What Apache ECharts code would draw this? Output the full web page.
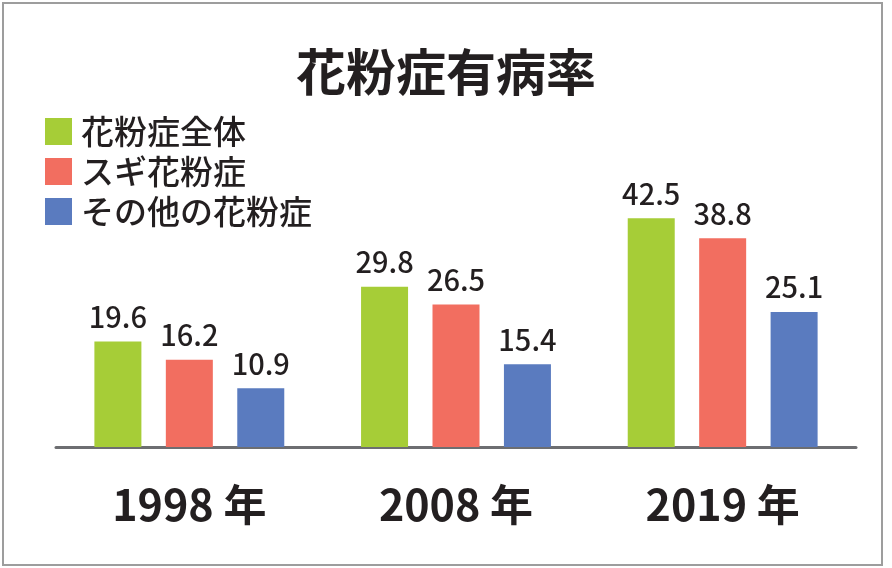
<!DOCTYPE html>
<html lang="ja">
<head>
<meta charset="UTF-8">
<title>花粉症有病率</title>
<style>
  html, body { margin: 0; padding: 0; background: #fff; }
  #chart { width: 892px; height: 568px; }
</style>
</head>
<body>
<div id="chart"></div>
<script src="https://cdn.jsdelivr.net/npm/echarts@6/dist/echarts.min.js"></script>
<script>
// データ
var years = ['1998 年', '2008 年', '2019 年'];
var seriesNames = ['花粉症全体', 'スギ花粉症', 'その他の花粉症'];
var allPollen = [19.6, 29.8, 42.5];
var cedar = [16.2, 26.5, 38.8];
var otherPollen = [10.9, 15.4, 25.1];
var colors = ['#a6cd37', '#f26e60', '#5a7bbf'];

var font = '"Noto Sans CJK JP", "Noto Sans", sans-serif';

var myChart = echarts.init(document.getElementById('chart'));

function makeSeries(name, data, color) {
    return {
        name: name,
        type: 'bar',
        data: data,
        barWidth: 47,
        barGap: '52%',
        itemStyle: { color: color },
        label: {
            show: true,
            position: 'top',
            distance: 10,
            color: '#231f20',
            fontFamily: font,
            fontSize: 29,
            fontWeight: 500,
            formatter: function (p) { return p.value.toFixed(1); }
        }
    };
}

var option = {
    animation: false,
    color: colors,
    title: {
        text: '花粉症有病率',
        left: 'center',
        top: 42,
        textStyle: {
            fontFamily: font,
            fontSize: 50,
            fontWeight: 'bold',
            color: '#231f20'
        }
    },
    legend: {
        orient: 'vertical',
        left: 40,
        top: 110,
        itemWidth: 27,
        itemHeight: 27,
        itemGap: 7,
        icon: 'rect',
        data: seriesNames,
        textStyle: {
            fontFamily: font,
            fontSize: 33,
            fontWeight: 500,
            color: '#231f20',
            padding: [0, 0, 0, 4]
        }
    },
    grid: {
        left: 56,
        right: 36,
        top: 178,
        bottom: 121
    },
    xAxis: {
        type: 'category',
        data: years,
        axisTick: { show: false },
        axisLine: { lineStyle: { color: '#6d6e71', width: 3 } },
        axisLabel: {
            margin: 36,
            fontFamily: font,
            fontSize: 43,
            fontWeight: 'bold',
            color: '#231f20'
        }
    },
    yAxis: {
        type: 'value',
        min: 0,
        max: 50,
        show: false,
        splitLine: { show: false }
    },
    graphic: [{
        type: 'rect',
        shape: { x: 3, y: 3, width: 879, height: 562 },
        style: { fill: 'none', stroke: '#9d9d9d', lineWidth: 2 },
        silent: true
    }],
    series: [
        makeSeries(seriesNames[0], allPollen, colors[0]),
        makeSeries(seriesNames[1], cedar, colors[1]),
        makeSeries(seriesNames[2], otherPollen, colors[2])
    ]
};

option && myChart.setOption(option);
</script>
</body>
</html>
